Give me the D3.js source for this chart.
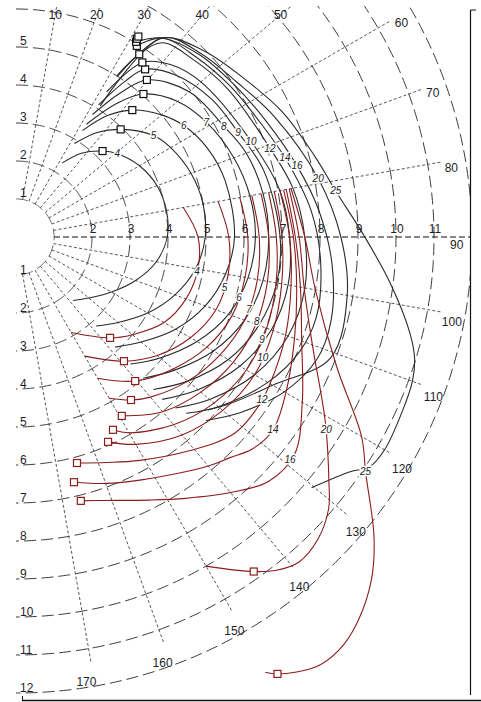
<!DOCTYPE html>
<html><head><meta charset="utf-8">
<script src="https://cdn.jsdelivr.net/npm/d3@7"></script>
<style>body{margin:0;background:#fff}svg{display:block}</style>
</head><body><svg id="c" width="481" height="702"></svg>
<script>
// ---------- data ----------
const ringValues = [1,2,3,4,5,6,7,8,9,10,11,12];
const axisRingLabels = [2,3,4,5,6,7,8,9,10,11];
const spokeAngles = [10,20,30,40,50,60,70,80,100,110,120,130,140,150,160,170];
const windSpeeds = [4,5,6,7,8,9,10,12,14,16,20,25];

// black (upwind sail) polars: [true wind angle, boat speed]
const black4  = [[32,2.3],[38,2.8],[45.2,3.21],[50.6,3.45],[60,3.75],[70,3.95],[80,4.02],[90,3.98],[100,3.75],[110,3.35],[120,2.9],[130,2.5],[138,2.25]];
const black5  = [[32,2.9],[38,3.5],[44.2,3.95],[53.6,4.5],[60,4.7],[70,4.9],[80,5.0],[90,4.98],[100,4.8],[110,4.45],[120,4.0],[130,3.5],[138,3.15]];
const black6  = [[32,3.3],[37,4.0],[42.5,4.53],[50,5.0],[56.4,5.3],[65,5.55],[75,5.7],[90,5.75],[100,5.6],[110,5.3],[120,4.85],[130,4.3],[138,3.9]];
const black7  = [[32,3.5],[37,4.4],[41.7,5.04],[50,5.55],[58.9,5.85],[70,6.1],[80,6.25],[90,6.3],[100,6.2],[110,5.95],[120,5.5],[130,4.95],[138,4.5]];
const black8  = [[32,3.8],[36,4.7],[39.8,5.38],[50,5.95],[61.9,6.2],[70,6.45],[80,6.6],[90,6.65],[100,6.6],[110,6.4],[120,6.0],[130,5.45],[138,5.0]];
const black9  = [[32,4.1],[35,5.0],[37.6,5.57],[45,6.0],[55,6.3],[64.7,6.46],[75,6.75],[90,6.95],[100,6.97],[110,6.8],[120,6.45],[130,5.9],[138,5.4]];
const black10 = [[32,4.5],[35.9,5.67],[42,6.1],[50,6.35],[67.8,6.68],[80,7.05],[90,7.2],[100,7.27],[110,7.15],[120,6.8],[130,6.25],[138,5.75]];
const black12 = [[32,5.0],[34,5.8],[37,6.4],[45,6.6],[55,6.8],[70.7,7.08],[80,7.4],[90,7.6],[100,7.72],[110,7.62],[120,7.25],[130,6.65],[137,6.15]];
const black14 = [[32.3,5.95],[36.3,6.5],[45,6.7],[55,6.9],[65,7.1],[73.6,7.38],[85,7.8],[95,8.05],[105,8.18],[112,8.05],[120,7.65],[130,6.95],[136,6.45]];
const black16 = [[31.6,6.03],[36.3,6.5],[45,6.8],[55,7.0],[65,7.25],[75.8,7.63],[85,8.0],[95,8.35],[105,8.58],[112,8.55],[120,8.15],[128,7.5],[134,6.95]];
const black20 = [[32.7,4.1],[36.3,6.5],[45,6.85],[55,7.1],[65,7.5],[79,8.1],[90,8.55],[100,8.85],[111,8.87],[120,7.8],[128,7.13],[132,6.8]];
const black25 = [[32.3,5.0],[36.3,6.5],[45,6.95],[55,7.3],[65,7.75],[75,8.15],[81.8,8.5],[90,9.18],[97,9.92],[103.7,10.67],[107,10.97],[110,11.1],[114,11.15],[120,11.2],[123,11.1],[125,10.76],[130.3,10.2]];
const blackPolars = [black4,black5,black6,black7,black8,black9,black10,black12,black14,black16,black20,black25];

// red (downwind sail) polars
const red4  = [[80,4.47],[90,4.79],[100,4.86],[110,4.76],[120,4.5],[130,4.0],[137,3.63],[150,2.9]];
const red5  = [[80,5.4],[90,5.6],[100,5.67],[110,5.6],[120,5.3],[130,4.85],[139,4.33],[150,3.62]];
const red6  = [[80,5.98],[90,6.1],[100,6.12],[110,6.05],[120,5.8],[130,5.4],[140.4,4.92],[150,4.29]];
const red7  = [[80,6.3],[90,6.4],[100,6.45],[110,6.4],[120,6.2],[130,5.9],[140,5.5],[144.8,5.25],[150,4.9]];
const red8  = [[80,6.55],[90,6.65],[100,6.72],[110,6.72],[120,6.6],[130,6.35],[140,6.0],[149.4,5.47]];
const red9  = [[80,6.75],[90,6.85],[100,6.95],[110,7.02],[120,7.0],[130,6.8],[140,6.45],[150,5.95],[153.3,5.68]];
const red10 = [[80,6.9],[90,7.0],[100,7.1],[110,7.2],[120,7.25],[130,7.1],[140,6.8],[150,6.3],[155.8,5.91]];
const red12 = [[80,7.05],[90,7.2],[100,7.35],[110,7.55],[120,7.72],[125,7.78],[132,7.73],[141,7.24],[151,6.72],[158,6.4],[164.9,6.16]];
const red14 = [[80,7.15],[90,7.3],[100,7.5],[110,7.8],[120,8.2],[127,8.46],[132,8.35],[136,8.08],[140,7.87],[153,7.18],[160,6.9],[166.7,6.63]];
const red16 = [[80,7.22],[90,7.35],[100,7.6],[110,8.0],[120,8.7],[128,9.3],[134,9.25],[140,8.78],[147,8.2],[153,7.77],[162,7.29],[166.2,7.15]];
const red20 = [[80,7.3],[90,7.45],[100,7.7],[110,8.3],[121,9.5],[128,10.45],[131,10.9],[135,11.24],[139,11.34],[142,11.13],[144.6,10.8],[150,10.0]];
const red25 = [[80,7.35],[90,7.6],[100,8.0],[112,9.1],[120,10.5],[124,11.1],[130,12.3],[134,13.0],[138.5,13.55],[142,13.8],[145,13.8],[149.1,13.4],[150.2,13.2]];
const redPolars = [red4,red5,red6,red7,red8,red9,red10,red12,red14,red16,red20,red25];

// optimum VMG points
const beatAngles = [45.2,44.2,42.5,41.7,39.8,37.6,35.9,34.0,32.3,31.6,31.4,31.4];
const beatSpeeds = [3.21,3.95,4.53,5.04,5.38,5.57,5.67,5.80,5.95,6.03,6.11,6.18];
const runAngles  = [137,139,140.4,144.8,149.4,153.3,155.8,164.9,166.7,166.2,144.6,149.1];
const runSpeeds  = [3.63,4.33,4.92,5.25,5.47,5.68,5.91,6.16,6.63,7.15,10.8,13.4];

// angles at which the wind-speed labels sit on each curve
const blackLabelAngles = [50.6,53.6,56.4,58.9,61.9,64.7,67.8,70.7,73.6,75.8,79,81.8];
const redLabelAngles   = [100.9,103.5,105.3,107.2,109.4,112.7,116.1,123.5,126.9,129.1,121.8,123.9];

// ---------- drawing ----------
const cx = 16, cy = 237;
const svg = d3.select('#c');
const rScale = d3.scaleLinear().domain([0,12]).range([0,456]);
const rad = d => d*Math.PI/180;
const px = (a,s) => [cx + rScale(s)*Math.sin(rad(a)), cy - rScale(s)*Math.cos(rad(a))];
const font = 'Liberation Sans, Arial, sans-serif';

svg.append('defs').append('clipPath').attr('id','clip')
  .append('rect').attr('x',0).attr('y',6).attr('width',470).attr('height',694);

const plot = svg.append('g').attr('clip-path','url(#clip)');
const g = plot.append('g').attr('transform',`translate(${cx},${cy})`);

// rings
g.selectAll('path.ring').data(ringValues).join('path')
  .attr('class','ring')
  .attr('d', v => d3.lineRadial().angle(d=>rad(d)).radius(rScale(v))(d3.range(0,180.5,0.5)))
  .attr('fill','none').attr('stroke','#3a3a3a').attr('stroke-width',1)
  .attr('stroke-dasharray','12,5');

// spokes
g.selectAll('line.spoke').data(spokeAngles).join('line')
  .attr('class','spoke')
  .attr('x1',a=>rScale(1)*Math.sin(rad(a))).attr('y1',a=>-rScale(1)*Math.cos(rad(a)))
  .attr('x2',a=>rScale(11.4)*Math.sin(rad(a))).attr('y2',a=>-rScale(11.4)*Math.cos(rad(a)))
  .attr('stroke','#444').attr('stroke-width',0.9).attr('stroke-dasharray','3,2.2');

// 90 deg axis
g.append('line').attr('x1',rScale(1)).attr('y1',0).attr('x2',470-cx).attr('y2',0)
  .attr('stroke','#111').attr('stroke-width',1.2).attr('stroke-dasharray','6,3');

// inner white semicircle
g.append('path').attr('d', d3.arc().innerRadius(0).outerRadius(rScale(1)-0.5).startAngle(0).endAngle(Math.PI)())
  .attr('fill','#fff');

const curve = d3.lineRadial().angle(d=>rad(d[0])).radius(d=>rScale(d[1])).curve(d3.curveCatmullRom.alpha(0.5));

g.selectAll('path.black').data(blackPolars).join('path')
  .attr('class','black').attr('d',curve)
  .attr('fill','none').attr('stroke','#2a2a2a').attr('stroke-width',1.1);

g.selectAll('path.red').data(redPolars).join('path')
  .attr('class','red').attr('d',curve)
  .attr('fill','none').attr('stroke','#8b1c1c').attr('stroke-width',1.1);

function speedAt(pol, a){
  for(let i=0;i<pol.length-1;i++){
    const [a0,s0]=pol[i],[a1,s1]=pol[i+1];
    if(a>=a0 && a<=a1){ return s0 + (s1-s0)*(a-a0)/(a1-a0); }
  }
  return pol[pol.length-1][1];
}

// curve labels
windSpeeds.forEach((w,i)=>{
  const ab = blackLabelAngles[i], sb = speedAt(blackPolars[i], ab);
  const [bx,by] = px(ab, sb);
  svg.append('text').attr('x',bx).attr('y',by+3.5).attr('text-anchor','middle')
    .attr('font-family',font).attr('font-size',10).attr('font-style','italic')
    .attr('fill','#222').attr('stroke','#fff').attr('stroke-width',3).attr('paint-order','stroke').text(w);
  const ar = redLabelAngles[i], sr = speedAt(redPolars[i], ar);
  const [rx,ry] = px(ar, sr);
  svg.append('text').attr('x',rx).attr('y',ry+3.5).attr('text-anchor','middle')
    .attr('font-family',font).attr('font-size',10).attr('font-style','italic')
    .attr('fill','#222').attr('stroke','#fff').attr('stroke-width',3).attr('paint-order','stroke').text(w);
});

// VMG markers
windSpeeds.forEach((w,i)=>{
  const [x1,y1] = px(beatAngles[i], beatSpeeds[i]);
  svg.append('rect').attr('x',x1-3.5).attr('y',y1-3.5).attr('width',7).attr('height',7)
    .attr('fill','#fff').attr('stroke','#111').attr('stroke-width',1.2);
  const [x2,y2] = px(runAngles[i], runSpeeds[i]);
  svg.append('rect').attr('x',x2-3.5).attr('y',y2-3.5).attr('width',7).attr('height',7)
    .attr('fill','#fff').attr('stroke','#8b1c1c').attr('stroke-width',1.2);
});

// ring labels on the 90 deg axis
svg.selectAll('text.ax').data(axisRingLabels).join('text')
  .attr('class','ax').attr('x',v=>cx+rScale(v)+1).attr('y',cy-4)
  .attr('text-anchor','middle').attr('font-family',font).attr('font-size',12).attr('fill','#1e1e2a')
  .text(v=>v);

// ring labels on the left edge (upper & lower)
ringValues.forEach(v=>{
  if(v<=5){
    svg.append('text').attr('x',20).attr('y',cy-rScale(v)-2).attr('font-family',font)
      .attr('font-size',12).attr('fill','#1e1e2a').text(v);
  }
  svg.append('text').attr('x',20).attr('y',cy+rScale(v)-1).attr('font-family',font)
    .attr('font-size',12).attr('fill','#1e1e2a').text(v);
});

// angle labels
spokeAngles.concat([90]).forEach(a=>{
  let rr = 11.6 + 0.25*Math.max(0, Math.min(1,(a-90)/30));
  let [x,y] = px(a+1, rr);
  if (y < 15) { const d = (cy-15)/Math.cos(rad(a)); x = cx + d*Math.sin(rad(a)); y = 15; }
  svg.append('text').attr('x',x).attr('y',y+4).attr('text-anchor','middle')
    .attr('font-family',font).attr('font-size',12).attr('fill','#1e1e2a').text(a);
});

// frame
svg.append('line').attr('x1',470.5).attr('y1',10).attr('x2',470.5).attr('y2',695).attr('stroke','#111').attr('stroke-width',1.2);
svg.append('line').attr('x1',470.5).attr('y1',10).attr('x2',476).attr('y2',10).attr('stroke','#111').attr('stroke-width',1);
svg.append('line').attr('x1',22).attr('y1',700.5).attr('x2',481).attr('y2',700.5).attr('stroke','#111').attr('stroke-width',1.5);
svg.append('line').attr('x1',22.5).attr('y1',696).attr('x2',22.5).attr('y2',700).attr('stroke','#111').attr('stroke-width',1);
</script></body></html>
